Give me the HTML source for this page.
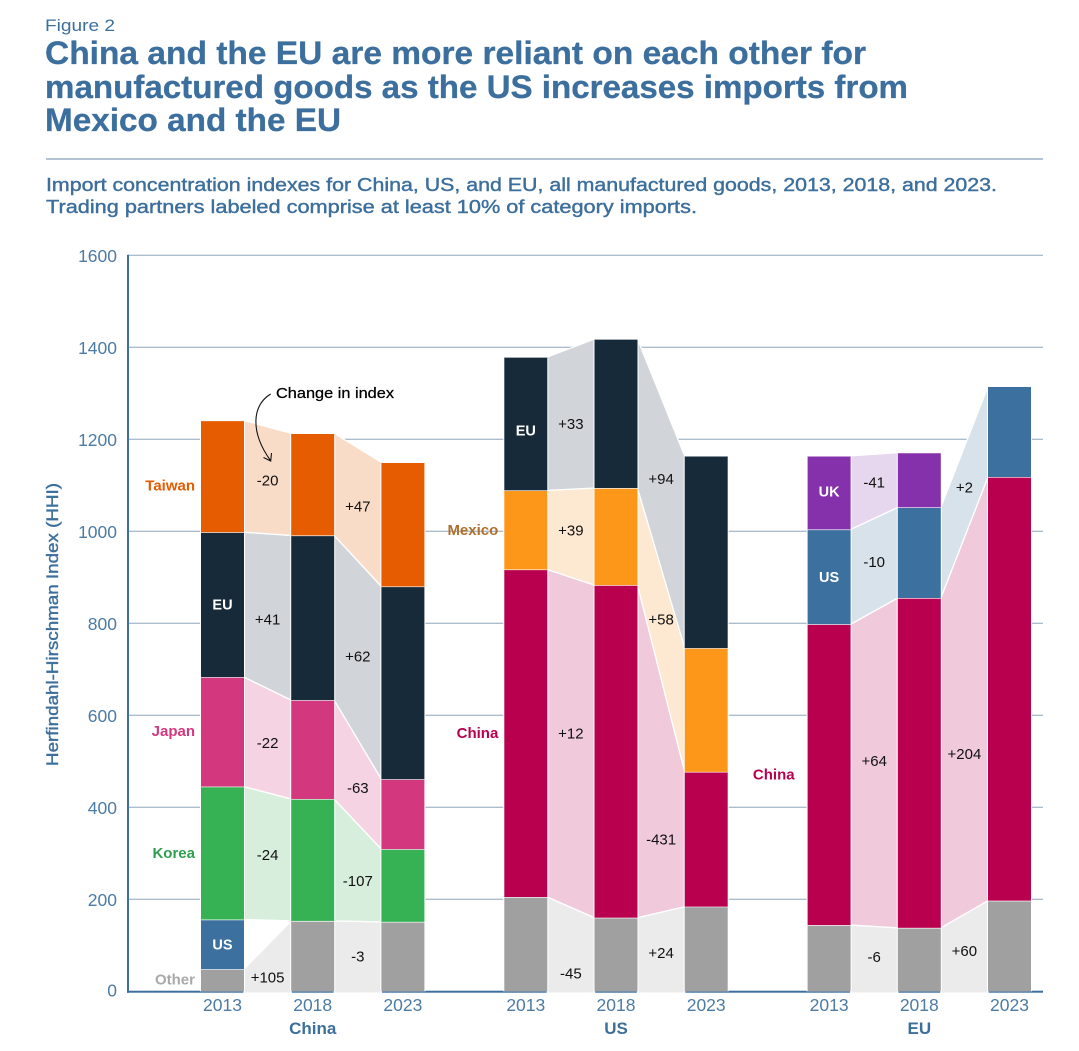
<!DOCTYPE html>
<html lang="en">
<head>
<meta charset="utf-8">
<title>China and the EU import concentration</title>
<style>
html,body{margin:0;padding:0;background:#fff;}
svg{display:block;}
text{font-family:"Liberation Sans",sans-serif;}
</style>
</head>
<body>
<svg id="chart" xmlns="http://www.w3.org/2000/svg" width="1079" height="1051" viewBox="0 0 1079 1051">
  <rect x="0" y="0" width="1079" height="1051" fill="#ffffff"/>
  <text x="45" y="31" font-size="17" fill="#3d6f9c" textLength="70" lengthAdjust="spacingAndGlyphs">Figure 2</text>
  <g font-size="32.5" font-weight="700" fill="#3c6f9d" stroke="#3c6f9d" stroke-width="0.3">
    <text x="45" y="64" textLength="821" lengthAdjust="spacingAndGlyphs">China and the EU are more reliant on each other for</text>
    <text x="45" y="98" textLength="863" lengthAdjust="spacingAndGlyphs">manufactured goods as the US increases imports from</text>
    <text x="45" y="131" textLength="296" lengthAdjust="spacingAndGlyphs">Mexico and the EU</text>
  </g>
  <rect x="46" y="158" width="997" height="2" fill="#b4c3d1"/>
  <g font-size="18" fill="#3d6f9c" stroke="#3d6f9c" stroke-width="0.4">
    <text x="46" y="191" textLength="951" lengthAdjust="spacingAndGlyphs">Import concentration indexes for China, US, and EU, all manufactured goods, 2013, 2018, and 2023.</text>
    <text x="46" y="213" textLength="651" lengthAdjust="spacingAndGlyphs">Trading partners labeled comprise at least 10% of category imports.</text>
  </g>
  <g id="grid"></g>
  <g id="yticks"></g>
  <text transform="translate(58,624.5) rotate(-90)" text-anchor="middle" font-size="16.5" fill="#3d6f9c" stroke="#3d6f9c" stroke-width="0.4" textLength="283" lengthAdjust="spacingAndGlyphs">Herfindahl-Hirschman Index (HHI)</text>
  <g id="marks"></g>
  <g>
    <text x="276" y="398" font-size="14.5" fill="#000" stroke="#000" stroke-width="0.25" textLength="118" lengthAdjust="spacingAndGlyphs">Change in index</text>
    <path d="M270.7,394 C252,405 250,432 270.5,460.5" fill="none" stroke="#111" stroke-width="1.1"/>
    <path d="M263.5,457.5 L270.7,461 L271.5,453" fill="none" stroke="#111" stroke-width="1.1"/>
  </g>
</svg>
<script>
// ---- Chart data ----
const years = ['2013', '2018', '2023'];
const yTickValues = [0, 200, 400, 600, 800, 1000, 1200, 1400, 1600];

const chinaOther = [48, 153, 151];
const chinaUS = [108, 0, 0];
const chinaKorea = [289, 265, 158];
const chinaJapan = [238, 215, 152];
const chinaEU = [315, 358, 419];
const chinaTaiwan = [243, 222, 270];
const chinaOtherChanges = ['+105', '-3'];
const chinaKoreaChanges = ['-24', '-107'];
const chinaJapanChanges = ['-22', '-63'];
const chinaEUChanges = ['+41', '+62'];
const chinaTaiwanChanges = ['-20', '+47'];

const usOther = [205, 160, 184];
const usChina = [712, 723, 293];
const usMexico = [172, 211, 269];
const usEU = [290, 324, 418];
const usOtherChanges = ['-45', '+24'];
const usChinaChanges = ['+12', '-431'];
const usMexicoChanges = ['+39', '+58'];
const usEUChanges = ['+33', '+94'];

const euOther = [144, 138, 197];
const euChina = [654, 717, 921];
const euUS = [206, 197, 197];
const euUK = [160, 119, 0];
const euOtherChanges = ['-6', '+60'];
const euChinaChanges = ['+64', '+204'];
const euUSChanges = ['-10', '+2'];
const euUKChanges = ['-41'];

// ---- Scales ----
const Y0 = 991.3, PX_PER_UNIT = 0.46;
function yScale(v) { return Y0 - v * PX_PER_UNIT; }
const BAR_W = 43, YEAR_STEP = 90.2;
const panelStart = [201, 504.3, 807.6];
function xScale(panel, yearIdx) { return panelStart[panel] + yearIdx * YEAR_STEP; }

// ---- Styles and presentation ----
const panels = [
  { name: 'China', series: [
    { key: 'other', name: 'Other', values: chinaOther, changes: chinaOtherChanges, color: '#a0a0a0', light: '#ebebeb', labelColor: '#a9a9a9', labelDy: [-1], nudge: [9, 0] },
    { key: 'us', name: 'US', values: chinaUS, changes: [], color: '#3c709f', light: '#ffffff', inside: true, labelDy: [0], nudge: [] },
    { key: 'korea', name: 'Korea', values: chinaKorea, changes: chinaKoreaChanges, color: '#36b254', light: '#d7eedd', labelColor: '#2f9e50', labelDy: [0], nudge: [-2, 8] },
    { key: 'japan', name: 'Japan', values: chinaJapan, changes: chinaJapanChanges, color: '#d3387f', light: '#f5d3e3', labelColor: '#d3387f', labelDy: [-1], nudge: [2, 6] },
    { key: 'eu', name: 'EU', values: chinaEU, changes: chinaEUChanges, color: '#172a3a', light: '#d1d5da', inside: true, labelDy: [0], nudge: [8, 6] },
    { key: 'taiwan', name: 'Taiwan', values: chinaTaiwan, changes: chinaTaiwanChanges, color: '#e65c00', light: '#f9dcc8', labelColor: '#e65c00', labelDy: [9], nudge: [0, 2] }
  ]},
  { name: 'US', series: [
    { key: 'other', name: '', values: usOther, changes: usOtherChanges, color: '#a0a0a0', light: '#ebebeb', nudge: [24, 1] },
    { key: 'china', name: 'China', values: usChina, changes: usChinaChanges, color: '#b9004f', light: '#f0cadb', labelColor: '#b9004f', labelDy: [0], nudge: [-9, 44] },
    { key: 'mexico', name: 'Mexico', values: usMexico, changes: usMexicoChanges, color: '#fd9719', light: '#fde8d1', labelColor: '#b26f2c', labelDy: [0], nudge: [-3, -4] },
    { key: 'eu', name: 'EU', values: usEU, changes: usEUChanges, color: '#172a3a', light: '#d1d5da', inside: true, labelDy: [7], nudge: [5, -4] }
  ]},
  { name: 'EU', series: [
    { key: 'other', name: '', values: euOther, changes: euOtherChanges, color: '#a0a0a0', light: '#ebebeb', nudge: [-2, -2] },
    { key: 'china', name: 'China', values: euChina, changes: euChinaChanges, color: '#b9004f', light: '#f0cadb', labelColor: '#b9004f', labelDy: [0], labelGap: 13, nudge: [-8, 28] },
    { key: 'us', name: 'US', values: euUS, changes: euUSChanges, color: '#3c709f', light: '#d8e2ea', inside: true, labelDy: [0], nudge: [-3, -5] },
    { key: 'uk', name: 'UK', values: euUK, changes: euUKChanges, color: '#8431ab', light: '#e6d6ee', inside: true, labelDy: [-1], nudge: [-4] }
  ]}
];

const SVG_NS = 'http://www.w3.org/2000/svg';
function make(parent, tag, attrs, txt) {
  const el = document.createElementNS(SVG_NS, tag);
  for (const k in attrs) el.setAttribute(k, attrs[k]);
  if (txt !== undefined) el.textContent = txt;
  parent.appendChild(el);
  return el;
}
const gridG = document.getElementById('grid');
const tickG = document.getElementById('yticks');
const marks = document.getElementById('marks');

yTickValues.forEach(function (t) {
  if (t > 0) {
    const line = make(gridG, 'line', { x1: 128, x2: 1043, y1: yScale(t), y2: yScale(t), stroke: '#8fa6ba', 'stroke-width': 1 });
    
    
  }
  const lab = make(tickG, 'text', { x: 117, y: yScale(t) + (t === 0 ? 5 : 6.5), 'text-anchor': 'end', 'font-size': 17.5, fill: '#4c7ba4' }, String(t));
  
  
});

const yAxis = make(marks, 'rect', { x: 127, y: yScale(1600) - 0.5, width: 2, height: Y0 - yScale(1600) + 2, fill: '#3d6f9c' });


const xAxis = make(marks, 'rect', { x: 127, y: Y0 - 0.6, width: 916, height: 2, fill: '#3d6f9c' });



panels.forEach(function (panel, p) {
  const group = make(marks, 'g', {});
  
  

  const flowG = make(group, 'g', {});
  
  
  const barG = make(group, 'g', {});
  
  
  const textG = make(group, 'g', {});
  
  

  // cumulative stack bases per year
  const base = years.map(function () { return 0; });
  panel.series.forEach(function (s) {
    const starts = base.slice();
    s.values.forEach(function (v, i) { base[i] += v; });

    // flows between years
    for (let i = 0; i < years.length - 1; i++) {
      if (s.values[i] <= 0 || s.values[i + 1] <= 0) continue;
      const x1 = xScale(p, i) + BAR_W, x2 = xScale(p, i + 1);
      const yA1 = yScale(starts[i] + s.values[i]), yA0 = yScale(starts[i]);
      const yB1 = yScale(starts[i + 1] + s.values[i + 1]), yB0 = yScale(starts[i + 1]);
      const ext = starts[i] === 0 ? 1.8 : 0;
      const flow = make(flowG, 'polygon', {
        points: x1 + ',' + yA1 + ' ' + x2 + ',' + yB1 + ' ' + x2 + ',' + (yB0 + ext) + ' ' + x1 + ',' + (yA0 + ext),
        fill: s.light, stroke: '#ffffff', 'stroke-width': 1.3
      });
      
      
      if (s.changes[i] !== undefined) {
        const cy = (yA1 + yA0 + yB1 + yB0) / 4 + (s.nudge[i] || 0);
        const t = make(textG, 'text', { x: (x1 + x2) / 2, y: cy + 5.3, 'text-anchor': 'middle', 'font-size': 15, fill: '#111' }, s.changes[i]);
        
        
      }
    }

    // bars
    s.values.forEach(function (v, i) {
      if (v <= 0) return;
      const top = yScale(starts[i] + v), bot = yScale(starts[i]);
      const halo = make(barG, 'rect', { x: xScale(p, i) - 1, y: top, width: BAR_W + 2, height: bot - top, fill: '#ffffff' });
      
      
      const bar = make(barG, 'rect', { x: xScale(p, i), y: top, width: BAR_W, height: bot - top, fill: s.color });
      
      
      const sep = make(barG, 'line', { x1: xScale(p, i), x2: xScale(p, i) + BAR_W, y1: top, y2: top, stroke: '#ffffff', 'stroke-width': 1.3 });
      
      
    });

    // series label beside or inside the first bar
    if (s.name && s.values[0] > 0) {
      const cy = (yScale(starts[0]) + yScale(starts[0] + s.values[0])) / 2 + (s.labelDy ? s.labelDy[0] : 0);
      const lab = s.inside
        ? make(textG, 'text', { x: xScale(p, 0) + BAR_W / 2, y: cy + 5, 'text-anchor': 'middle', 'font-size': 14.5, 'font-weight': 700, fill: '#ffffff' }, s.name)
        : make(textG, 'text', { x: xScale(p, 0) - (s.labelGap || 6), y: cy + 5, 'text-anchor': 'end', 'font-size': 15, 'font-weight': 700, fill: s.labelColor }, s.name);
      
      
    }
  });

  // year labels
  years.forEach(function (yr, i) {
    const t = make(textG, 'text', { x: xScale(p, i) + BAR_W / 2, y: 1011, 'text-anchor': 'middle', 'font-size': 17.5, fill: '#4c7ba4' }, yr);
    
    
  });
  const pl = make(textG, 'text', { x: xScale(p, 1) + BAR_W / 2, y: 1034, 'text-anchor': 'middle', 'font-size': 17, 'font-weight': 700, fill: '#3d6f9c' }, panel.name);
  
  
});
</script>
</body>
</html>
